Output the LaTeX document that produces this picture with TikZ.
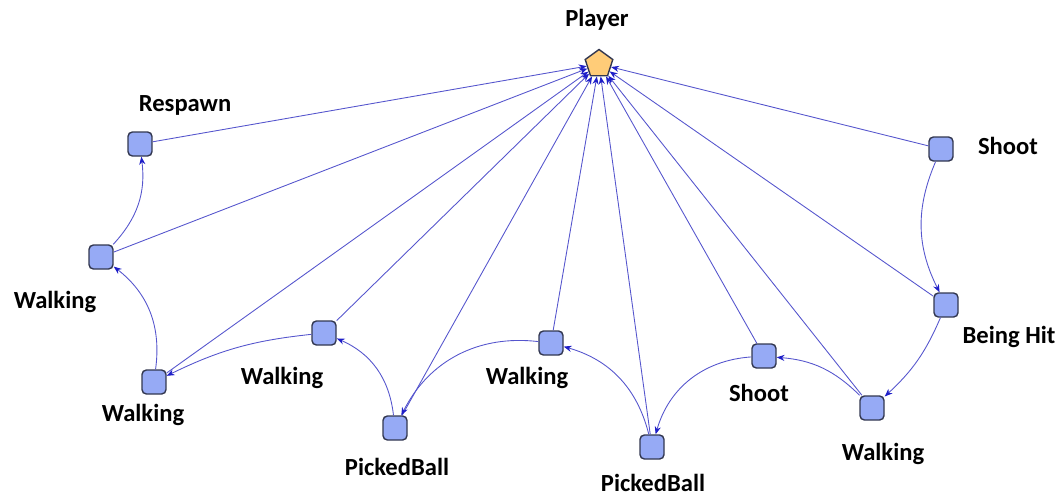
\documentclass[tikz,border=0pt]{standalone}
\usepackage{fontspec}
\setmainfont{Carlito}
\usetikzlibrary{shapes.geometric,arrows.meta}

\definecolor{boxblue}{RGB}{150,170,245}
\definecolor{boxline}{RGB}{50,55,80}
\definecolor{edgeblue}{RGB}{85,85,205}
\definecolor{tipblue}{RGB}{30,30,200}
\definecolor{playerfill}{RGB}{255,204,120}

\tikzset{
  state/.style={draw=boxline, thick, fill=boxblue, rounded corners=2.5pt,
    minimum size=0.48cm, inner sep=0pt},
  player/.style={draw=boxline, thick, fill=playerfill, regular polygon,
    regular polygon sides=5, minimum size=0.58cm, inner sep=0pt},
  lbl/.style={font=\fontsize{14}{16}\selectfont\bfseries, inner sep=1pt},
  link/.style={draw=edgeblue, line width=0.5pt,
    -{Stealth[length=4.5pt,width=3.5pt,color=tipblue]}}
}

\begin{document}
\begin{tikzpicture}[x=0.02cm, y=-0.02cm]
  \useasboundingbox (0,0) rectangle (1062,498);

  % player
  \node[player] (player) at (599,64) {};
  \node[lbl] (playerlbl) at (597,20) {Player};

  % states
  \node[state] (respawn) at (140,144) {};
  \node[state] (walka) at (101,257) {};
  \node[state] (walkb) at (154,382) {};
  \node[state] (walkc) at (324,333) {};
  \node[state] (pickeda) at (395,428) {};
  \node[state] (walkd) at (551,343) {};
  \node[state] (pickedb) at (652,447) {};
  \node[state] (shootb) at (764,356) {};
  \node[state] (walke) at (872,408) {};
  \node[state] (beinghit) at (946,305) {};
  \node[state] (shoota) at (941,149) {};

  % labels
  \node[lbl] (respawnlbl) at (185,105) {Respawn};
  \node[lbl] (walkalbl) at (55,302) {Walking};
  \node[lbl] (walkblbl) at (143,415) {Walking};
  \node[lbl] (walkclbl) at (282,378) {Walking};
  \node[lbl] (pickedalbl) at (397,467) {PickedBall};
  \node[lbl] (walkdlbl) at (527,378) {Walking};
  \node[lbl] (pickedblbl) at (653,483) {PickedBall};
  \node[lbl] (shootblbl) at (759,393) {Shoot};
  \node[lbl] (walkelbl) at (883,454) {Walking};
  \node[lbl] (beinghitlbl) at (1009,337) {Being Hit};
  \node[lbl] (shootalbl) at (1008,146) {Shoot};

  % every state points at the player
  \foreach \s in {respawn,walka,walkb,walkc,pickeda,walkd,pickedb,shootb,walke,beinghit,shoota}
    \draw[link] (\s) -- (player);

  % the sequence of states
  \draw[link] (shoota) to[bend right=25] (beinghit);
  \draw[link] (beinghit) to[bend left=12] (walke);
  \draw[link] (walke) to[bend right=20] (shootb);
  \draw[link] (shootb) to[bend right=35] (pickedb);
  \draw[link] (pickedb) to[bend right=30] (walkd);
  \draw[link] (walkd) to[bend right=35] (pickeda);
  \draw[link] (pickeda) to[bend right=30] (walkc);
  \draw[link] (walkc) to[bend right=10] (walkb);
  \draw[link] (walkb) to[bend right=30] (walka);
  \draw[link] (walka) to[bend right=25] (respawn);
\end{tikzpicture}
\end{document}
